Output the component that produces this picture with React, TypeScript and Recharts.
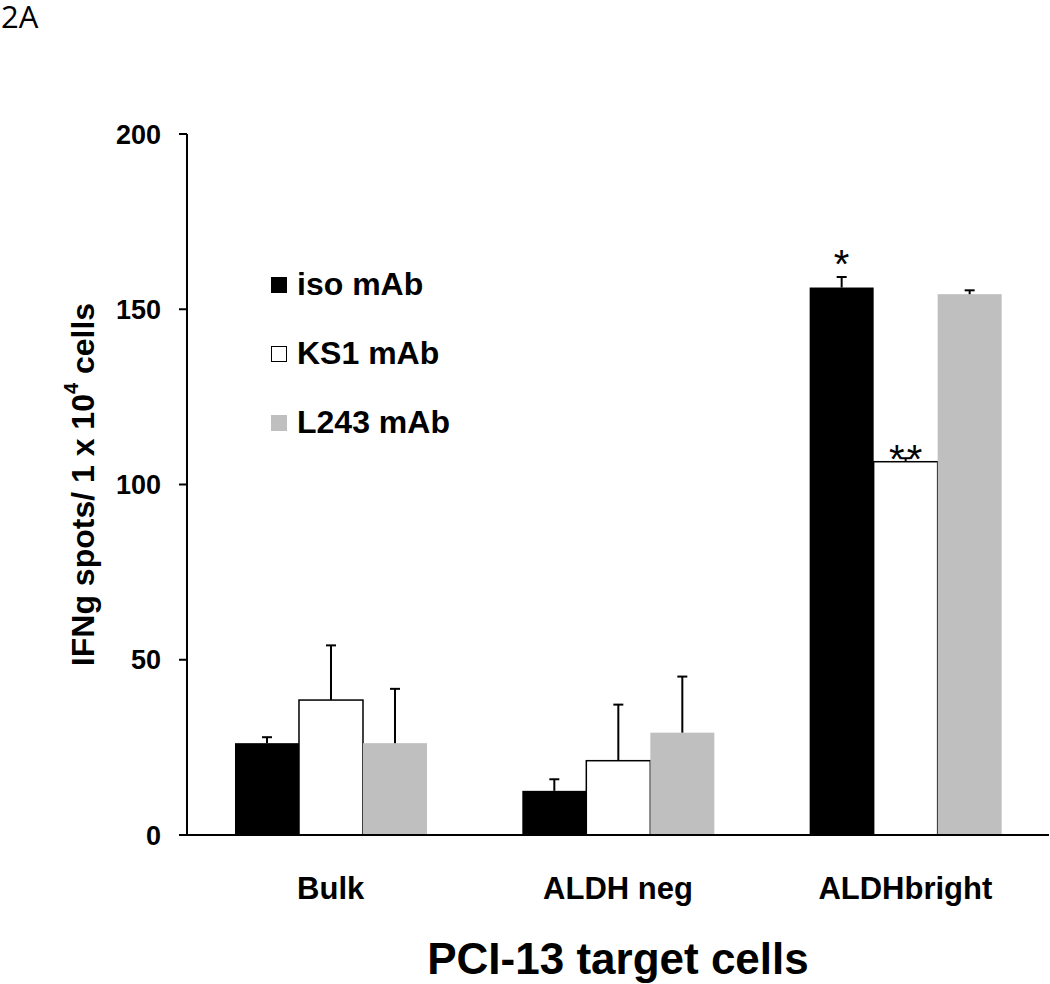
import React from "react";
import {
  BarChart,
  Bar,
  XAxis,
  YAxis,
  Legend,
  LabelList,
  Label,
} from "recharts";

const categories = ["Bulk", "ALDH neg", "ALDHbright"];
const isoValues = [26.2, 12.6, 156.2];
const isoErrors = [1.7, 3.3, 3.0];
const ks1Values = [38.5, 21.2, 106.5];
const ks1Errors = [15.6, 16.0, 1.0];
const l243Values = [26.2, 29.2, 154.3];
const l243Errors = [15.5, 16.0, 1.1];
const isoMarks = ["", "", "*"];
const ks1Marks = ["", "", "**"];
const yTicks = [0, 50, 100, 150, 200];
const edgeTicks = [0, 1, 2, 3];

const series = [
  { key: "iso", name: "iso mAb", fill: "#000000", stroke: "none" },
  { key: "ks1", name: "KS1 mAb", fill: "#ffffff", stroke: "#000000" },
  { key: "l243", name: "L243 mAb", fill: "#bfbfbf", stroke: "none" },
];

const data = categories.map((name, i) => ({
  name,
  iso: isoValues[i],
  isoErr: isoErrors[i],
  isoMark: isoMarks[i],
  ks1: ks1Values[i],
  ks1Err: ks1Errors[i],
  ks1Mark: ks1Marks[i],
  l243: l243Values[i],
  l243Err: l243Errors[i],
}));

const FONT = "'Liberation Sans', Arial, sans-serif";

if (typeof document !== "undefined") {
  document.body.style.margin = "0";
}

// bar with an upper-only error bar
function makeShape(valKey: string, errKey: string, fill: string, stroke: string) {
  return (props: any) => {
    const { x, y, width, height, payload } = props;
    const v = payload[valKey];
    const e = payload[errKey];
    const errPx = v ? (e / v) * height : 0;
    const cx = x + width / 2;
    const top = y - errPx;
    return (
      <g>
        <rect
          x={x}
          y={y}
          width={width}
          height={height}
          fill={fill}
          stroke={stroke}
          strokeWidth={stroke === "none" ? 0 : 1.5}
        />
        <line x1={cx} y1={y} x2={cx} y2={top} stroke="#000" strokeWidth={2} />
        <line x1={cx - 5} y1={top} x2={cx + 5} y2={top} stroke="#000" strokeWidth={2} />
      </g>
    );
  };
}

function makeMark(dy: number) {
  return (props: any) => {
    const { x, y, width, value } = props;
    if (!value) return null;
    return (
      <text
        x={x + width / 2 + 1}
        y={y + dy}
        textAnchor="middle"
        fontFamily={FONT}
        fontSize={40}
        letterSpacing={2}
        fill="#000"
      >
        {value}
      </text>
    );
  };
}

const YTitle = (props: any) => {
  const { viewBox } = props;
  const cx = viewBox.x + 83;
  const cy = viewBox.y + viewBox.height / 2;
  return (
    <text
      x={cx}
      y={cy}
      transform={`rotate(-90 ${cx} ${cy})`}
      textAnchor="middle"
      dominantBaseline="central"
      fontFamily={FONT}
      fontWeight="bold"
      fontSize={32}
      fill="#000"
    >
      IFNg spots/ 1 x 10
      <tspan dy={-12} fontSize={20}>
        4
      </tspan>
      <tspan dy={12}> cells</tspan>
    </text>
  );
};

const LegendBox = () => (
  <div style={{ fontFamily: FONT, fontWeight: "bold", fontSize: 32, color: "#000" }}>
    {series.map((s) => (
      <div key={s.key} style={{ height: 69, display: "flex", alignItems: "center" }}>
        <span
          style={{
            display: "inline-block",
            width: 16,
            height: 16,
            boxSizing: "border-box",
            background: s.fill,
            border: s.stroke === "none" ? "none" : "1.5px solid #000",
            marginRight: 10,
          }}
        />
        {s.name}
      </div>
    ))}
  </div>
);

export default function App() {
  return (
    <div
      style={{
        position: "relative",
        width: 1050,
        height: 984,
        background: "#fff",
      }}
    >
      <BarChart
        width={1050}
        height={984}
        data={data}
        margin={{ top: 134, right: 1, bottom: 0, left: 0 }}
        barCategoryGap="16.7%"
        barGap={0}
      >
        <XAxis
          xAxisId={0}
          type="number"
          domain={[0, 3]}
          ticks={edgeTicks}
          allowDataOverflow
          height={1}
          tick={false}
          tickSize={9}
          tickLine={{ stroke: "#000", strokeWidth: 2 }}
          axisLine={{ stroke: "#000", strokeWidth: 2 }}
        />
        <XAxis
          xAxisId="cat"
          dataKey="name"
          height={148}
          tickLine={false}
          axisLine={false}
          tickSize={0}
          tickMargin={41}
          tick={{ fill: "#000", fontSize: 31, fontWeight: "bold", fontFamily: FONT }}
        >
          <Label
            value="PCI-13 target cells"
            position="insideBottom"
            offset={10}
            style={{ fill: "#000", fontSize: 44, fontWeight: "bold", fontFamily: FONT }}
          />
        </XAxis>
        <YAxis
          width={187}
          domain={[0, 200]}
          ticks={yTicks}
          interval={0}
          tickSize={8}
          tickMargin={18}
          tick={{ fill: "#000", fontSize: 27, fontWeight: "bold", fontFamily: FONT }}
          tickLine={{ stroke: "#000", strokeWidth: 2 }}
          axisLine={{ stroke: "#000", strokeWidth: 2 }}
        >
          <Label content={YTitle} />
        </YAxis>
        <Legend
          layout="vertical"
          align="center"
          verticalAlign="middle"
          content={LegendBox}
          wrapperStyle={{ top: 250, left: 271, width: "auto", height: "auto" }}
        />
        <Bar
          xAxisId="cat"
          dataKey="iso"
          name="iso mAb"
          fill="#000"
          shape={makeShape("iso", "isoErr", "#000000", "none")}
          isAnimationActive={false}
        >
          <LabelList dataKey="isoMark" content={makeMark(-10)} />
        </Bar>
        <Bar
          xAxisId="cat"
          dataKey="ks1"
          name="KS1 mAb"
          fill="#fff"
          shape={makeShape("ks1", "ks1Err", "#ffffff", "#000000")}
          isAnimationActive={false}
        >
          <LabelList dataKey="ks1Mark" content={makeMark(11)} />
        </Bar>
        <Bar
          xAxisId="cat"
          dataKey="l243"
          name="L243 mAb"
          fill="#bfbfbf"
          shape={makeShape("l243", "l243Err", "#bfbfbf", "none")}
          isAnimationActive={false}
        />
      </BarChart>
      <div
        style={{
          position: "absolute",
          left: 1,
          top: 1,
          fontFamily: "'Open Sans', sans-serif",
          fontSize: 31,
          lineHeight: "31px",
          color: "#000",
        }}
      >
        2A
      </div>
    </div>
  );
}
